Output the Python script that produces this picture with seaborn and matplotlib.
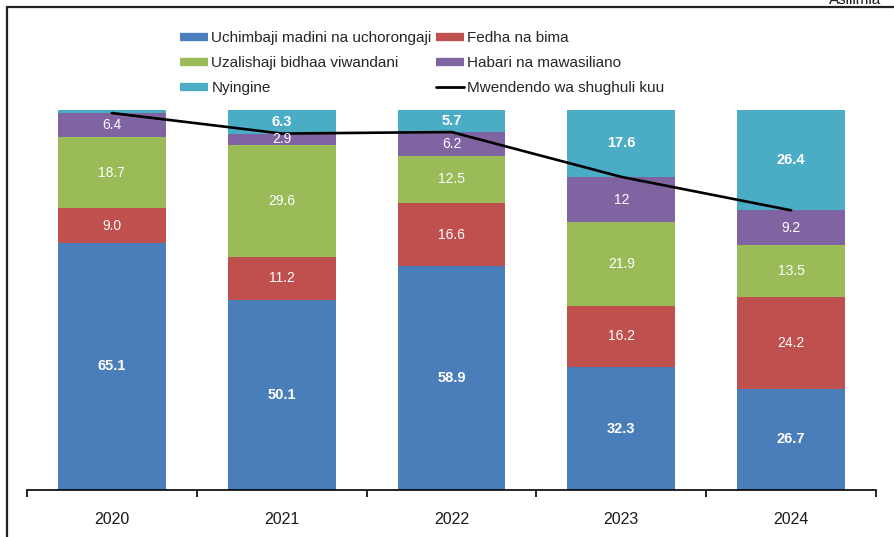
import numpy as np
import pandas as pd
import matplotlib
matplotlib.use("Agg")
import matplotlib.pyplot as plt
from matplotlib.lines import Line2D
import seaborn as sns

years = ["2020", "2021", "2022", "2023", "2024"]
series_names = ["Uchimbaji madini na uchorongaji", "Fedha na bima",
                "Uzalishaji bidhaa viwandani", "Habari na mawasiliano", "Nyingine"]
uchimbaji = [65.1, 50.1, 58.9, 32.3, 26.7]
fedha = [9.0, 11.2, 16.6, 16.2, 24.2]
uzalishaji = [18.7, 29.6, 12.5, 21.9, 13.5]
habari = [6.4, 2.9, 6.2, 12.0, 9.2]
nyingine = [0.8, 6.3, 5.7, 17.6, 26.4]
trend_name = "Mwendendo wa shughuli kuu"
trend = [99.2, 93.8, 94.2, 82.4, 73.6]
value_labels = [
    ["65.1", "50.1", "58.9", "32.3", "26.7"],
    ["9.0", "11.2", "16.6", "16.2", "24.2"],
    ["18.7", "29.6", "12.5", "21.9", "13.5"],
    ["6.4", "2.9", "6.2", "12", "9.2"],
    ["", "6.3", "5.7", "17.6", "26.4"],
]

colors = ["#4A7EBB", "#C0504D", "#9BBB59", "#8064A2", "#4BACC6"]
bold = [True, False, False, False, True]

sns.set_theme(style="white")
plt.rcParams["font.family"] = ["Liberation Sans", "DejaVu Sans"]

fig = plt.figure(figsize=(8.94, 5.37), dpi=100)
ax = fig.add_axes([27 / 894, 1 - 490 / 537, (876 - 27) / 894, (490 - 110) / 537])

layers = [uchimbaji, fedha, uzalishaji, habari, nyingine]
cum = np.cumsum(np.array(layers), axis=0)
df = pd.DataFrame({"year": years})
# draw from top layer downwards (cumulative heights)
for i in range(len(layers) - 1, -1, -1):
    df["h"] = cum[i]
    sns.barplot(data=df, x="year", y="h", color=colors[i], width=0.635,
                saturation=1, ax=ax, edgecolor="none", linewidth=0, zorder=2)

# value labels
for i in range(len(layers)):
    bottoms = cum[i] - np.array(layers[i])
    for j, y in enumerate(years):
        txt = value_labels[i][j]
        if not txt:
            continue
        ax.text(j, bottoms[j] + layers[i][j] / 2, txt, ha="center", va="center",
                color="white", fontsize=10.5 if bold[i] else 10,
                fontweight="bold" if bold[i] else "normal", zorder=5)

# trend line
tdf = pd.DataFrame({"pos": np.arange(len(years)), "v": trend})
sns.lineplot(data=tdf, x="pos", y="v", color="black", linewidth=1.9, ax=ax, zorder=4)

ax.set_xlim(-0.5, len(years) - 0.5)
ax.set_ylim(0, 100)
ax.set_xlabel("")
ax.set_ylabel("")
ax.set_yticks([])
ax.set_xticks(range(len(years)))
ax.set_xticklabels(years, fontsize=11.5, color="#1a1a1a")
ax.set_xticks(np.arange(-0.5, len(years)), minor=True)
ax.tick_params(axis="x", which="major", length=0, pad=16)
ax.tick_params(axis="x", which="minor", length=5, width=1.2, color="black", direction="out", bottom=True)
for s in ["top", "right", "left"]:
    ax.spines[s].set_visible(False)
ax.spines["bottom"].set_color("black")
ax.spines["bottom"].set_linewidth(1.2)
ax.patch.set_alpha(0)

# legend
h = [Line2D([0], [0], color=c, lw=6, solid_capstyle="butt") for c in colors]
hl = Line2D([0], [0], color="black", lw=2)
handles = [h[0], h[2], h[4], h[1], h[3], hl]
labels = [series_names[0], series_names[2], series_names[4],
          series_names[1], series_names[3], trend_name]
fig.legend(handles, labels, loc="upper left", bbox_to_anchor=(180 / 894, 1 - 31 / 537),
           ncol=2, frameon=False, fontsize=11, handlelength=1.85, handletextpad=0.2,
           columnspacing=0.3, labelspacing=0.72, borderpad=0, borderaxespad=0)

# frame lines
fig.add_artist(Line2D([7 / 894, 7 / 894], [0, 1 - 7 / 537], color="#222222", lw=1.6,
                      transform=fig.transFigure))
fig.add_artist(Line2D([7 / 894, 1], [1 - 7 / 537, 1 - 7 / 537], color="#222222", lw=1.6,
                      transform=fig.transFigure))
fig.text(829 / 894, 1 - 4 / 537, "Asilimia", fontsize=11, ha="left", va="baseline", color="#1a1a1a")

fig.savefig("out.png", dpi=100)
